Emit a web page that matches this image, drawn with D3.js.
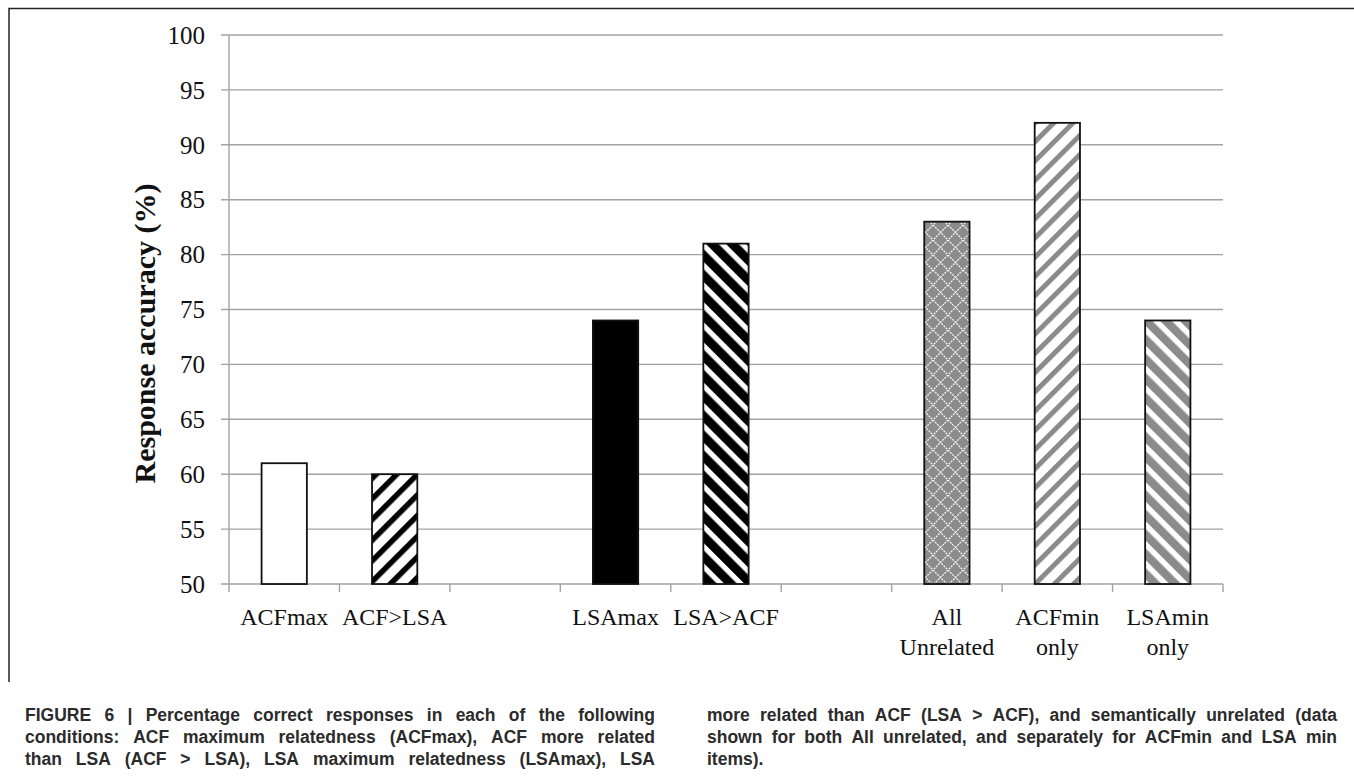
<!DOCTYPE html>
<html>
<head>
<meta charset="utf-8">
<script src="https://cdn.jsdelivr.net/npm/d3@7"></script>
<style>
  html, body { margin: 0; padding: 0; background: #fff; }
  svg { display: block; }
</style>
</head>
<body>
<svg id="chart" width="1354" height="781"></svg>
<script>
// ---------- data ----------
const categories = ["ACFmax", "ACF>LSA", "gap1", "LSAmax", "LSA>ACF", "gap2", "All Unrelated", "ACFmin only", "LSAmin only"];
const categoryLabels = [["ACFmax"], ["ACF>LSA"], [], ["LSAmax"], ["LSA>ACF"], [], ["All", "Unrelated"], ["ACFmin", "only"], ["LSAmin", "only"]];
const values = [61, 60, null, 74, 81, null, 83, 92, 74];
const fills = ["white", "stripeBlackUp", null, "black", "stripeBlackDown", null, "crossGray", "stripeGrayUp", "stripeGrayDown"];
const yTicks = [50, 55, 60, 65, 70, 75, 80, 85, 90, 95, 100];
const yTitle = "Response accuracy (%)";
const captionCol1 = [
  "FIGURE 6 | Percentage correct responses in each of the following",
  "conditions: ACF maximum relatedness (ACFmax), ACF more related",
  "than LSA (ACF > LSA), LSA maximum relatedness (LSAmax), LSA"
];
const captionCol2 = [
  "more related than ACF (LSA > ACF), and semantically unrelated (data",
  "shown for both All unrelated, and separately for ACFmin and LSA min",
  "items)."
];

// ---------- layout ----------
const svg = d3.select("#chart");
const plot = { left: 229, right: 1223, top: 35, bottom: 584 };
const gridColor = "#a3a3a3";
const gray = "#8b8b8b";
const serif = "'Liberation Serif', 'Times New Roman', serif";

// frame
svg.append("path")
  .attr("d", "M9,682 L9,8.5 L1354,8.5")
  .attr("fill", "none").attr("stroke", "#222").attr("stroke-width", 1.5);

// ---------- patterns ----------
const defs = svg.append("defs");
function stripes(id, angle, period, bandWidth, bandColor, bgColor) {
  const p = defs.append("pattern").attr("id", id)
    .attr("patternUnits", "userSpaceOnUse")
    .attr("width", period).attr("height", period)
    .attr("patternTransform", `rotate(${angle})`);
  p.append("rect").attr("width", period).attr("height", period).attr("fill", bgColor);
  p.append("rect").attr("x", 0).attr("width", bandWidth).attr("height", period).attr("fill", bandColor);
}
stripes("stripeBlackUp", 45, 14.6, 5.5, "#000", "#fff");
stripes("stripeBlackDown", -45, 14.2, 9, "#000", "#fff");
stripes("stripeGrayUp", 45, 13.6, 5, gray, "#fff");
stripes("stripeGrayDown", -45, 13.8, 8.3, gray, "#fff");
(function () {
  const s = 15;
  const p = defs.append("pattern").attr("id", "crossGray")
    .attr("patternUnits", "userSpaceOnUse").attr("width", s).attr("height", s)
    .attr("x", 3);
  p.append("rect").attr("width", s).attr("height", s).attr("fill", gray);
  p.append("path").attr("d", `M0,0 L${s},${s} M${s},0 L0,${s}`)
    .attr("stroke", "#f4f4f4").attr("stroke-width", 1.3).attr("stroke-dasharray", "2 1");
})();

// ---------- scales ----------
const x = d3.scaleBand().domain(categories).range([plot.left, plot.right])
  .paddingInner(0.59).paddingOuter(0.295);
const y = d3.scaleLinear().domain([50, 100]).range([plot.bottom, plot.top]);

// gridlines + y tick marks
svg.append("g").selectAll("line").data(yTicks).join("line")
  .attr("x1", plot.left - 8).attr("x2", plot.right)
  .attr("y1", d => y(d)).attr("y2", d => y(d))
  .attr("stroke", gridColor).attr("stroke-width", 1.4);

// y axis line
svg.append("line").attr("x1", plot.left).attr("x2", plot.left)
  .attr("y1", y(100)).attr("y2", y(50))
  .attr("stroke", gridColor).attr("stroke-width", 1.4);

// x category boundary ticks
const boundaries = d3.range(categories.length + 1).map(i => plot.left + i * x.step());
svg.append("g").selectAll("line").data(boundaries).join("line")
  .attr("x1", d => d).attr("x2", d => d)
  .attr("y1", y(50)).attr("y2", y(50) + 8)
  .attr("stroke", gridColor).attr("stroke-width", 1.4);

// y tick labels
svg.append("g").selectAll("text").data(yTicks).join("text")
  .attr("x", 205).attr("y", d => y(d)).attr("dy", "0.35em")
  .attr("text-anchor", "end")
  .attr("font-family", serif).attr("font-size", 25).attr("fill", "#111")
  .text(d => d);

// y title
svg.append("text")
  .attr("transform", `translate(155, ${(180 + 487) / 2}) rotate(-90)`)
  .attr("text-anchor", "middle")
  .attr("font-family", serif).attr("font-weight", "bold").attr("font-size", 30).attr("fill", "#111")
  .text(yTitle);

// bars
const barData = categories.map((c, i) => ({ c, v: values[i], f: fills[i] })).filter(d => d.v != null);
svg.append("g").selectAll("rect").data(barData).join("rect")
  .attr("x", d => x(d.c)).attr("width", x.bandwidth())
  .attr("y", d => y(d.v)).attr("height", d => y(50) - y(d.v))
  .attr("fill", d => (d.f === "white" || d.f === "black") ? (d.f === "white" ? "#fff" : "#000") : `url(#${d.f})`)
  .attr("stroke", "#111").attr("stroke-width", 1.8);

// category labels
const lab = svg.append("g").selectAll("text").data(categories.map((c, i) => ({ c, lines: categoryLabels[i] }))).join("text")
  .attr("text-anchor", "middle")
  .attr("font-family", serif).attr("font-size", 24).attr("fill", "#111");
lab.each(function (d) {
  const t = d3.select(this);
  d.lines.forEach((ln, j) => {
    t.append("tspan").attr("x", x(d.c) + x.bandwidth() / 2).attr("y", 625 + j * 30).text(ln);
  });
});

// ---------- caption (justified) ----------
const capFont = "'Liberation Sans Narrow', 'Liberation Sans', Arial, sans-serif";
const capG = svg.append("g").attr("font-family", capFont).attr("font-weight", "bold")
  .attr("font-size", 17.5).attr("fill", "#2b2b2b");
function measure(word) {
  const t = capG.append("text").text(word);
  const w = t.node().getComputedTextLength();
  t.remove();
  return w;
}
function drawCol(lines, x0, width) {
  const spaceW = measure("a b") - measure("ab");
  lines.forEach((ln, i) => {
    const words = ln.split(" ");
    const widths = words.map(measure);
    const total = d3.sum(widths);
    const isLast = i === lines.length - 1 && lines === captionCol2;
    const gap = (!isLast && words.length > 1) ? (width - total) / (words.length - 1) : spaceW;
    let cx = x0;
    words.forEach((w, k) => {
      capG.append("text").attr("x", cx).attr("y", 721 + i * 22).text(w);
      cx += widths[k] + gap;
    });
  });
}
drawCol(captionCol1, 25, 630);
drawCol(captionCol2, 707, 630);
</script>
</body>
</html>
